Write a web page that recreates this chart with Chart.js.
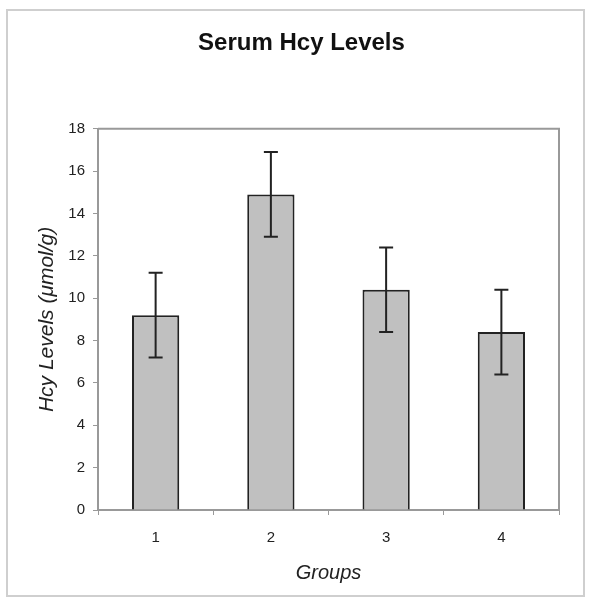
<!DOCTYPE html>
<html>
<head>
<meta charset="utf-8">
<script src="https://cdn.jsdelivr.net/npm/chart.js@4/dist/chart.umd.min.js"></script>
<style>
  html, body { margin: 0; padding: 0; background: #fff; }
  #wrap { position: relative; width: 593px; height: 602px; }
  #frame { position: absolute; left: 6px; top: 9px; width: 575px; height: 584px; border: 2px solid #cfcfcf; pointer-events: none; }
</style>
</head>
<body>
<div id="wrap">
  <canvas id="bar-chart" width="593" height="602"></canvas>
  <div id="frame"></div>
</div>
<script>
// data
var groups = ["1", "2", "3", "4"];
var hcyMeans = [9.2, 14.9, 10.4, 8.4];
var hcyErrors = [2.0, 2.0, 2.0, 2.0];
var yTicks = [0, 2, 4, 6, 8, 10, 12, 14, 16, 18];

// box round the plot area
var plotFrame = {
    id: 'plotFrame',
    afterDraw: function(chart) {
        var a = chart.chartArea, ctx = chart.ctx;
        ctx.save();
        ctx.strokeStyle = '#999';
        ctx.lineWidth = 2;
        ctx.beginPath();
        ctx.moveTo(a.left, a.top);
        ctx.lineTo(a.right, a.top);
        ctx.lineTo(a.right, a.bottom);
        ctx.stroke();
        ctx.restore();
    }
};

// error bars drawn through the y scale
var errorBars = {
    id: 'errorBars',
    afterDatasetsDraw: function(chart) {
        var ctx = chart.ctx;
        var y = chart.scales.y;
        var meta = chart.getDatasetMeta(0);
        ctx.save();
        ctx.strokeStyle = '#222';
        ctx.lineWidth = 2;
        meta.data.forEach(function(bar, i) {
            var top = y.getPixelForValue(hcyMeans[i] + hcyErrors[i]);
            var bot = y.getPixelForValue(hcyMeans[i] - hcyErrors[i]);
            ctx.beginPath();
            ctx.moveTo(bar.x, top);
            ctx.lineTo(bar.x, bot);
            ctx.moveTo(bar.x - 7, top);
            ctx.lineTo(bar.x + 7, top);
            ctx.moveTo(bar.x - 7, bot);
            ctx.lineTo(bar.x + 7, bot);
            ctx.stroke();
        });
        ctx.restore();
    }
};

new Chart(document.getElementById("bar-chart"), {
    type: 'bar',
    data: {
        labels: groups,
        datasets: [{
            label: "Hcy",
            data: hcyMeans,
            backgroundColor: "#c0c0c0",
            borderColor: "#222",
            borderWidth: 2,
            barPercentage: 0.41,
            categoryPercentage: 1.0
        }]
    },
    plugins: [plotFrame, errorBars],
    options: {
        responsive: false,
        animation: false,
        layout: { padding: { left: 44, right: 34, top: 0, bottom: 12 } },
        plugins: {
            legend: { display: false },
            tooltip: { enabled: false },
            title: {
                display: true,
                text: 'Serum Hcy Levels',
                color: '#111',
                font: { family: 'Liberation Sans', size: 24, weight: 'bold' },
                padding: { top: 29, bottom: 71 }
            }
        },
        scales: {
            x: {
                grid: { display: true, drawOnChartArea: false, drawTicks: true, tickLength: 5, color: '#999', lineWidth: 1 },
                border: { display: true, color: '#999', width: 2 },
                ticks: { color: '#222', padding: 14, font: { family: 'Liberation Sans', size: 15 } },
                title: {
                    display: true, text: 'Groups', color: '#222',
                    font: { family: 'Liberation Sans', size: 20, style: 'italic' },
                    padding: { top: 0, bottom: 5 }
                },
                afterFit: function(scale) { scale.height = 80; }
            },
            y: {
                min: 0,
                max: 18,
                afterBuildTicks: function(scale) {
                    scale.ticks = yTicks.map(function(v) { return { value: v }; });
                },
                grid: { display: true, drawOnChartArea: false, drawTicks: true, tickLength: 5, color: '#999', lineWidth: 1 },
                border: { display: true, color: '#999', width: 2 },
                ticks: { color: '#222', padding: 8, font: { family: 'Liberation Sans', size: 15 } },
                title: {
                    display: true, text: 'Hcy Levels (μmol/g)', color: '#222',
                    font: { family: 'Liberation Sans', size: 21, style: 'italic' },
                    padding: { top: -9.6, bottom: 0 }
                },
                afterFit: function(scale) { scale.width = 54; }
            }
        }
    }
});
</script>
</body>
</html>
